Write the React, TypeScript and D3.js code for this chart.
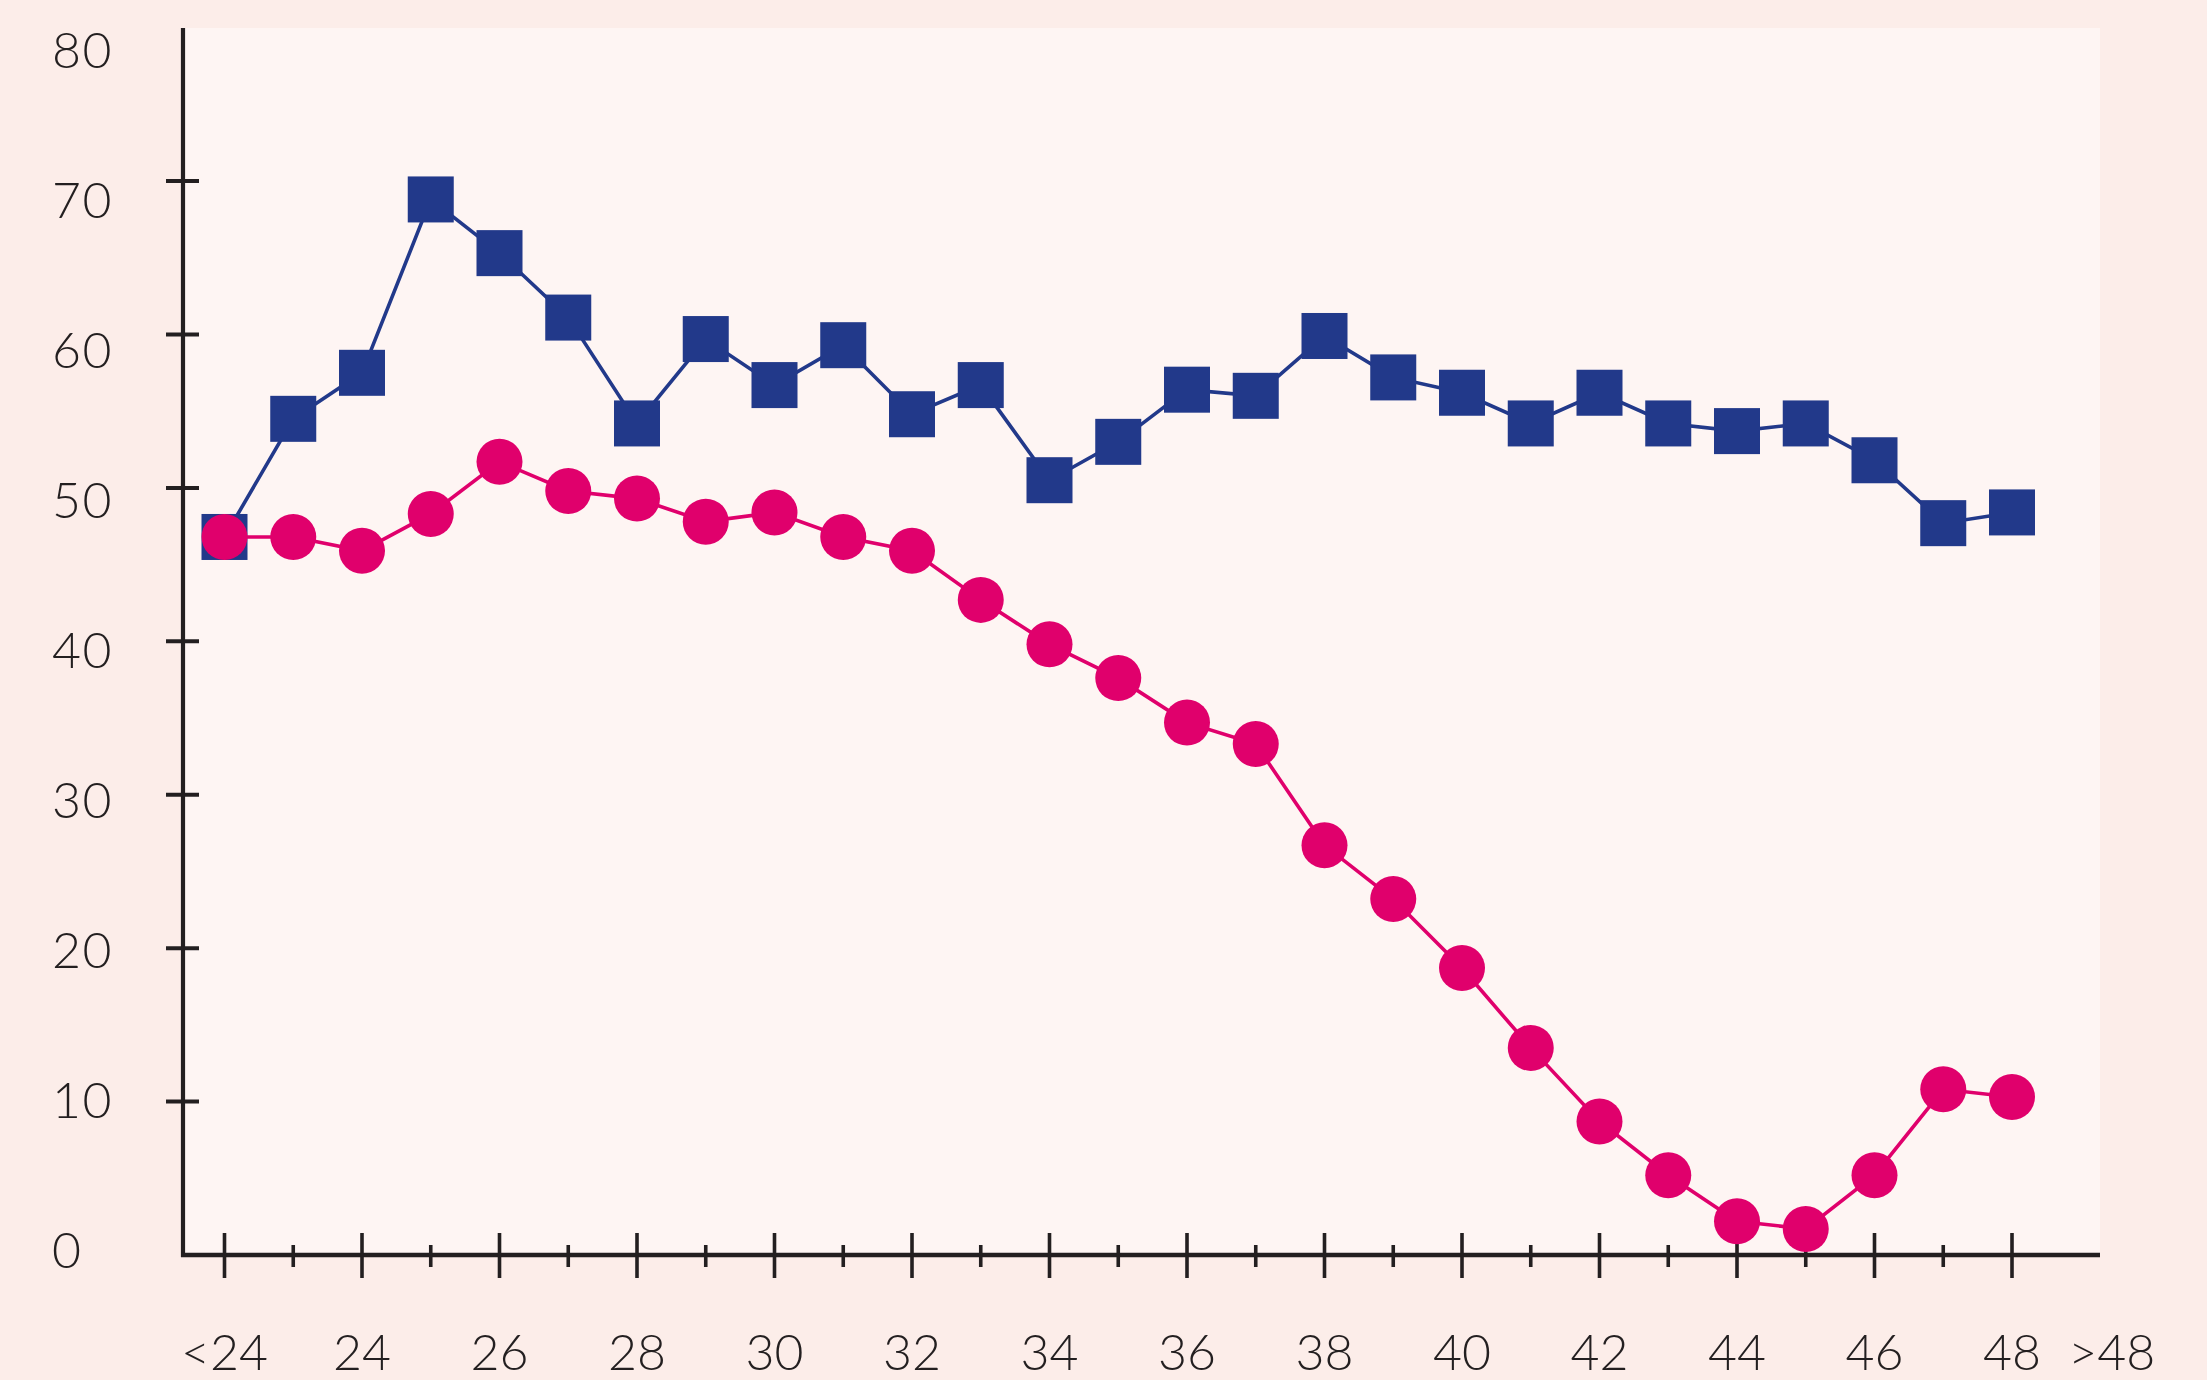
import * as d3 from "d3";

const W = 2207;
const H = 1380;

// x categories: 27 points, labelled on every second one, plus ">48" past the end
const categories = [
  "<24", "23", "24", "25", "26", "27", "28", "29", "30", "31", "32", "33", "34", "35",
  "36", "37", "38", "39", "40", "41", "42", "43", "44", "45", "46", "47", "48",
];
const xTickLabels = ["<24", "24", "26", "28", "30", "32", "34", "36", "38", "40", "42", "44", "46", "48"];
const extraLabel = ">48";

const navySeries = [
  46.8, 54.5, 57.5, 68.8, 65.3, 61.1, 54.2, 59.7, 56.7, 59.3, 54.8, 56.7, 50.5, 53.0,
  56.4, 56.0, 59.9, 57.2, 56.2, 54.2, 56.2, 54.2, 53.7, 54.2, 51.8, 47.7, 48.4,
];
const pinkSeries = [
  46.8, 46.8, 45.9, 48.3, 51.7, 49.8, 49.3, 47.8, 48.4, 46.8, 45.9, 42.7, 39.8, 37.6,
  34.7, 33.3, 26.7, 23.2, 18.7, 13.5, 8.7, 5.2, 2.2, 1.7, 5.2, 10.8, 10.3,
];
const yTicks = [10, 20, 30, 40, 50, 60, 70];
const yLabels = [0, 10, 20, 30, 40, 50, 60, 70, 80];

const NAVY = "#22398a";
const PINK = "#e0006c";
const INK = "#231f20";

export default function App() {
  const axisX = 183;
  const axisY = 1255;
  const plotRight = 2100;
  const plotTop = 28;

  const x = d3.scaleLinear().domain([0, categories.length - 1]).range([224.5, 2012]);
  const y = d3.scaleLinear().domain([0, 80]).range([axisY, 27.6]);
  // the printed labels sit on a slightly tighter spacing than the ticks
  const yLab = d3.scaleLinear().domain([0, 80]).range([1250, 50]);

  const line = d3
    .line<number>()
    .x((_, i) => x(i))
    .y((d) => y(d));

  const font = "Lato, 'Noto Sans', sans-serif";
  const xLabelY = 1370;

  return (
    <svg
      width={W}
      height={H}
      style={{ position: "absolute", left: 0, top: 0, display: "block" }}
    >
      <rect width={W} height={H} fill="#fcede9" />
      <rect
        x={axisX}
        y={plotTop}
        width={plotRight - axisX}
        height={axisY - plotTop}
        fill="#fef5f3"
      />

      {/* y axis */}
      <line x1={axisX} x2={axisX} y1={plotTop} y2={axisY + 2} stroke={INK} strokeWidth={4.2} />
      {yTicks.map((t) => (
        <line key={t} x1={axisX - 17} x2={axisX + 16} y1={y(t)} y2={y(t)} stroke={INK} strokeWidth={4} />
      ))}
      {yLabels.map((t) => (
        <text
          key={t}
          x={52}
          y={yLab(t)}
          dy="0.36em"
          fontFamily={font}
          fontWeight={300}
          fontSize={50}
          letterSpacing={1.5}
          fill={INK}
        >
          {t}
        </text>
      ))}

      {/* x axis */}
      <line x1={axisX - 2} x2={plotRight} y1={axisY} y2={axisY} stroke={INK} strokeWidth={4.5} />
      {categories.map((c, i) => (
        <line
          key={c}
          x1={x(i)}
          x2={x(i)}
          y1={i % 2 === 0 ? 1233 : 1245}
          y2={i % 2 === 0 ? 1278 : 1267}
          stroke={INK}
          strokeWidth={3.6}
        />
      ))}
      {xTickLabels.map((l, k) => (
        <text
          key={l}
          x={x(k * 2)}
          y={xLabelY}
          textAnchor="middle"
          fontFamily={font}
          fontWeight={300}
          fontSize={50}
          fill={INK}
        >
          {l}
        </text>
      ))}
      <text
        x={x(27.45)}
        y={xLabelY}
        textAnchor="middle"
        fontFamily={font}
        fontWeight={300}
        fontSize={50}
        fill={INK}
      >
        {extraLabel}
      </text>

      {/* navy series */}
      <path d={line(navySeries) ?? ""} fill="none" stroke={NAVY} strokeWidth={3.6} />
      {navySeries.map((v, i) => (
        <rect key={i} x={x(i) - 23} y={y(v) - 23} width={46} height={46} fill={NAVY} />
      ))}

      {/* pink series */}
      <path d={line(pinkSeries) ?? ""} fill="none" stroke={PINK} strokeWidth={3.6} />
      {pinkSeries.map((v, i) => (
        <circle key={i} cx={x(i)} cy={y(v)} r={23} fill={PINK} />
      ))}
    </svg>
  );
}
